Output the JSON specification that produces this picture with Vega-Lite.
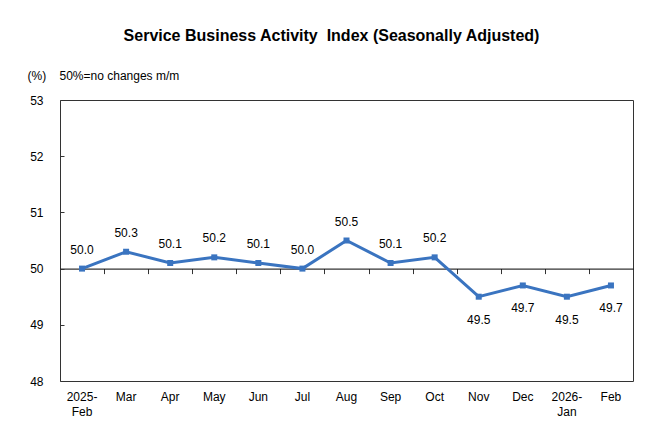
{
  "$schema": "https://vega.github.io/schema/vega-lite/v6.json",
  "width": 573,
  "height": 281,
  "autosize": "none",
  "padding": {"left": 60, "top": 100, "right": 27, "bottom": 59},
  "background": "white",
  "config": {
    "font": "Liberation Sans",
    "view": {"stroke": "#333333", "strokeWidth": 1},
    "axis": {"labelFont": "Liberation Sans", "labelFontSize": 12, "labelColor": "#000000", "titleFont": "Liberation Sans"}
  },
  "title": {
    "text": "Service Business Activity\u00a0 Index (Seasonally Adjusted)",
    "font": "Liberation Sans",
    "fontSize": 16,
    "fontWeight": "bold",
    "color": "#000000",
    "anchor": "middle",
    "offset": 25,
    "dx": -15
  },
  "data": {
    "values": [
      {"month": "2025-Feb", "v": 50.0},
      {"month": "Mar", "v": 50.3},
      {"month": "Apr", "v": 50.1},
      {"month": "May", "v": 50.2},
      {"month": "Jun", "v": 50.1},
      {"month": "Jul", "v": 50.0},
      {"month": "Aug", "v": 50.5},
      {"month": "Sep", "v": 50.1},
      {"month": "Oct", "v": 50.2},
      {"month": "Nov", "v": 49.5},
      {"month": "Dec", "v": 49.7},
      {"month": "2026-Jan", "v": 49.5},
      {"month": "Feb ", "v": 49.7}
    ]
  },
  "layer": [
    {
      "mark": {"type": "line", "color": "#3A74C0", "strokeWidth": 3},
      "encoding": {
        "x": {
          "field": "month",
          "type": "nominal",
          "sort": null,
          "scale": {"type": "band", "paddingInner": 0, "paddingOuter": 0},
          "axis": {
            "orient": "bottom",
            "title": null,
            "domain": false,
            "ticks": false,
            "labelAngle": 0,
            "labelPadding": 10,
            "labelLineHeight": 15,
            "labelExpr": "indexof(datum.label, '-') > 0 ? [slice(datum.label, 0, 5), slice(datum.label, 5)] : datum.label"
          }
        },
        "y": {
          "field": "v",
          "type": "quantitative",
          "scale": {"domain": [48, 53], "nice": false, "zero": false},
          "axis": {
            "title": "(%)\u00a0\u00a0\u00a0\u00a050%=no changes m/m",
            "titleAngle": 0,
            "titleAlign": "left",
            "titleBaseline": "middle",
            "titleX": -33,
            "titleY": -25,
            "titleFontSize": 12,
            "titleFontWeight": "normal",
            "titleColor": "#000000",
            "values": [48, 49, 50, 51, 52, 53],
            "format": "d",
            "grid": false,
            "domain": false,
            "tickSize": -4,
            "tickColor": "#333333",
            "labelPadding": 21
          }
        }
      }
    },
    {
      "mark": {"type": "point", "shape": "square", "filled": true, "size": 36, "color": "#3A74C0", "opacity": 1},
      "encoding": {
        "x": {"field": "month", "type": "nominal", "sort": null, "scale": {"type": "band", "paddingInner": 0, "paddingOuter": 0}, "axis": null},
        "y": {"field": "v", "type": "quantitative"}
      }
    },
    {
      "mark": {"type": "rule", "color": "#000000", "strokeWidth": 1},
      "encoding": {
        "x": {
          "field": "month",
          "type": "nominal",
          "sort": null,
          "scale": {"type": "band", "paddingInner": 0, "paddingOuter": 0},
          "axis": {
            "orient": "bottom",
            "title": null,
            "labels": false,
            "domain": true,
            "domainColor": "#000000",
            "ticks": true,
            "tickBand": "extent",
            "tickSize": 5,
            "tickColor": "#333333",
            "offset": -112.4
          }
        },
        "y": {"datum": 50},
        "opacity": {"value": 0}
      }
    },
    {
      "transform": [{"filter": "datum.v >= 50"}],
      "mark": {"type": "text", "dy": -19, "fontSize": 12, "color": "#000000", "font": "Liberation Sans"},
      "encoding": {
        "x": {"field": "month", "type": "nominal", "sort": null, "scale": {"type": "band", "paddingInner": 0, "paddingOuter": 0}, "axis": null},
        "y": {"field": "v", "type": "quantitative"},
        "text": {"field": "v", "type": "quantitative", "format": ".1f"}
      }
    },
    {
      "transform": [{"filter": "datum.v < 50"}],
      "mark": {"type": "text", "dy": 23, "fontSize": 12, "color": "#000000", "font": "Liberation Sans"},
      "encoding": {
        "x": {"field": "month", "type": "nominal", "sort": null, "scale": {"type": "band", "paddingInner": 0, "paddingOuter": 0}, "axis": null},
        "y": {"field": "v", "type": "quantitative"},
        "text": {"field": "v", "type": "quantitative", "format": ".1f"}
      }
    }
  ],
  "resolve": {"axis": {"x": "independent"}}
}
